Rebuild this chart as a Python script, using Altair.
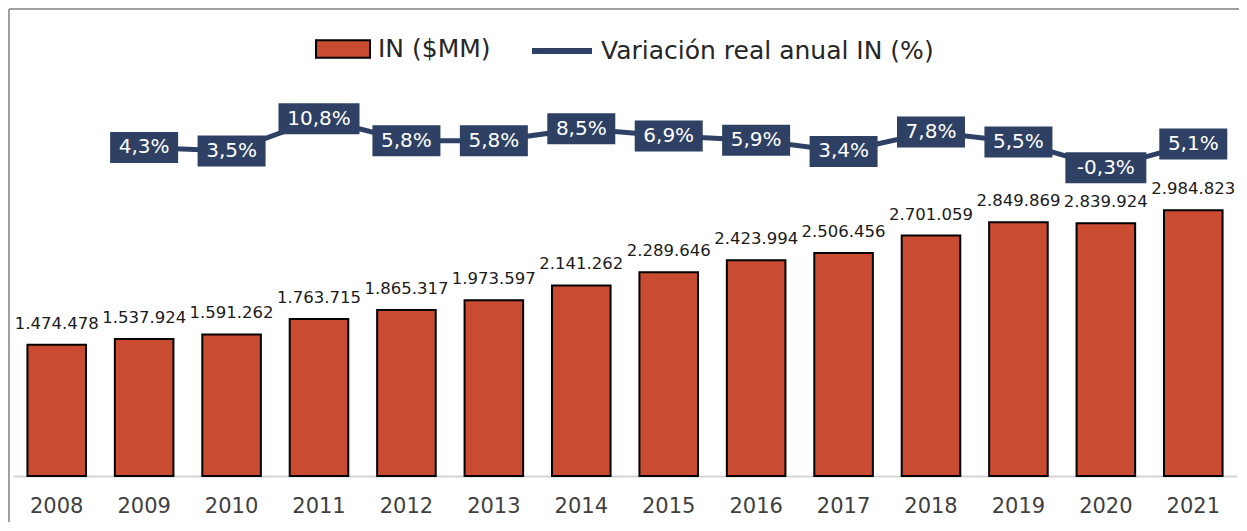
import altair as alt
import pandas as pd

years = ["2008", "2009", "2010", "2011", "2012", "2013", "2014",
         "2015", "2016", "2017", "2018", "2019", "2020", "2021"]
in_values = [1474478, 1537924, 1591262, 1763715, 1865317, 1973597, 2141262,
             2289646, 2423994, 2506456, 2701059, 2849869, 2839924, 2984823]
var_values = [None, 4.3, 3.5, 10.8, 5.8, 5.8, 8.5,
              6.9, 5.9, 3.4, 7.8, 5.5, -0.3, 5.1]

BAR_NAME = "IN ($MM)"
LINE_NAME = "Variación real anual IN (%)"
RED = "#C84B32"
NAVY = "#2E4164"
FONT = "DejaVu Sans"

df = pd.DataFrame({"year": years, "IN": in_values, "VAR": var_values})

x_enc = alt.X(
    "year:N",
    title=None,
    sort=years,
    scale=alt.Scale(paddingInner=0.33, paddingOuter=0.165),
    axis=alt.Axis(
        labelFont=FONT, labelFontSize=21, labelColor="#404040",
        labelPadding=19, ticks=False, domainColor="#D4D4D4", domainWidth=2,
        labelAngle=0,
    ),
)

y_left_scale = alt.Scale(domain=[0, 4000000], nice=False)
y_right_scale = alt.Scale(domain=[-70, 10.5], nice=False)

base = alt.Chart(df)

bars = base.mark_bar(stroke="black", strokeWidth=2).transform_calculate(
    serie=f"'{BAR_NAME}'"
).encode(
    x=x_enc,
    y=alt.Y(
        "IN:Q", scale=y_left_scale, title=None,
        axis=alt.Axis(
            values=list(range(0, 4000001, 500000)), labels=False, domain=False,
            grid=False, tickSize=3, tickColor="#B0B0B0", offset=2,
        ),
    ),
    fill=alt.Fill(
        "serie:N",
        scale=alt.Scale(domain=[BAR_NAME], range=[RED]),
        legend=alt.Legend(
            title=None, orient="none", legendX=302, legendY=-99,
            symbolType="M-1,-0.32H1V0.32H-1Z", symbolSize=2916,
            symbolStrokeColor="black", symbolStrokeWidth=2, symbolOpacity=1,
            labelFont=FONT, labelFontSize=25, labelColor="#262626",
            labelOffset=7, padding=0, labelLimit=0,
        ),
    ),
)

bar_text = base.mark_text(
    dy=-21, font=FONT, fontSize=16.5, color="#1A1A1A", baseline="middle"
).transform_calculate(
    lbl="replace(format(datum.IN, ','), regexp(',', 'g'), '.')"
).encode(
    x=x_enc,
    y=alt.Y("IN:Q", scale=y_left_scale, axis=None),
    text="lbl:N",
)

line_base = base.transform_filter("isValid(datum.VAR)").transform_calculate(
    serie2=f"'{LINE_NAME}'",
    lbl="replace(replace(format(datum.VAR, '.1f'), '.', ','), '\u2212', '-') + '%'",
).transform_calculate(
    w="16 + 13 * length(datum.lbl)",
).transform_calculate(
    sz="datum.w * datum.w",
    shp="'M-1,' + (-31 / datum.w) + 'L1,' + (-31 / datum.w) + 'L1,' + (31 / datum.w) + 'L-1,' + (31 / datum.w) + 'Z'",
)

line = line_base.mark_line(strokeWidth=5).encode(
    x=x_enc,
    y=alt.Y(
        "VAR:Q", scale=y_right_scale, title=None,
        axis=alt.Axis(
            orient="right", values=list(range(-70, 11, 10)), labels=False,
            domain=False, grid=False, tickSize=3, tickColor="#B0B0B0", offset=1,
        ),
    ),
    stroke=alt.Stroke(
        "serie2:N",
        scale=alt.Scale(domain=[LINE_NAME], range=[NAVY]),
        legend=alt.Legend(
            title=None, orient="none", legendX=516, legendY=-102,
            symbolType="stroke", symbolSize=3600, symbolStrokeWidth=6,
            labelFont=FONT, labelFontSize=25, labelColor="#262626",
            labelOffset=6, padding=0, labelLimit=0,
        ),
    ),
)

boxes = line_base.mark_point(filled=True, opacity=1, strokeWidth=0, color=NAVY).encode(
    x=x_enc,
    y=alt.Y("VAR:Q", scale=y_right_scale, axis=None),
    shape=alt.Shape("shp:N", scale=None, legend=None),
    size=alt.Size("sz:Q", scale=None, legend=None),
)

box_text = line_base.mark_text(
    font=FONT, fontSize=20, color="white", baseline="middle", align="center"
).encode(
    x=x_enc,
    y=alt.Y("VAR:Q", scale=y_right_scale, axis=None),
    text="lbl:N",
)

frame_data = alt.Data(values=[{"k": 1}])
frame_left = alt.Chart(frame_data).mark_rule(color="#A0A0A0", strokeWidth=2).encode(
    x=alt.value(-4), y=alt.value(-111), y2=alt.value(410)
)
frame_top = alt.Chart(frame_data).mark_rule(color="#A0A0A0", strokeWidth=2).encode(
    x=alt.value(-4), x2=alt.value(1240), y=alt.value(-111)
)

left = alt.layer(bars, bar_text)
right = alt.layer(line, boxes, box_text)

chart = alt.layer(left, right, frame_left, frame_top).resolve_scale(
    y="independent"
).properties(
    width=1224,
    height=356,
    autosize=alt.AutoSizeParams(type="none"),
    padding={"left": 5, "top": 112, "right": 2, "bottom": 46},
).configure_view(stroke=None).configure_legend(padding=0)

chart.save("out.html", embed_options={"renderer": "svg", "actions": False})
